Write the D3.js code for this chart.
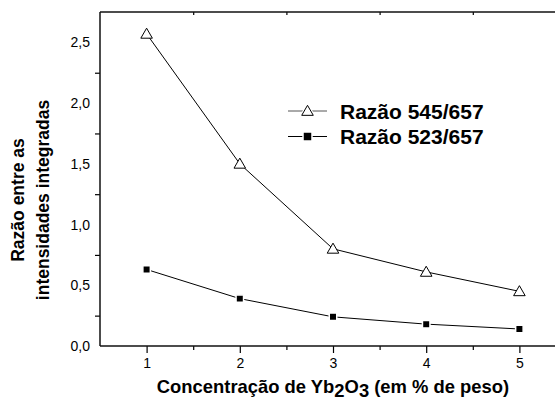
<!DOCTYPE html>
<html>
<head>
<meta charset="utf-8">
<script src="https://cdn.jsdelivr.net/npm/d3@7"></script>
<style>
  body { margin: 0; background: #fff; }
  text { font-family: "Liberation Sans", Arial, sans-serif; }
</style>
</head>
<body>
<div id="chart"></div>
<script>
// concentration of Yb2O3 (% weight)
var concentracao = [1, 2, 3, 4, 5];
var razao545 = [2.57, 1.50, 0.80, 0.61, 0.45];
var razao523 = [0.63, 0.39, 0.24, 0.18, 0.14];
var xMajor = [1, 2, 3, 4, 5];
var xMinor = [1.5, 2.5, 3.5, 4.5];
var yMajor = [0, 0.5, 1.0, 1.5, 2.0, 2.5];
var yMinor = [0.25, 0.75, 1.25, 1.75, 2.25];
var legendLabels = ["Raz\u00e3o 545/657", "Raz\u00e3o 523/657"];

var width = 555, height = 400;
var plotLeft = 100, plotRight = 566, plotTop = 12, plotBottom = 346;

var svg = d3.select("#chart").append("svg")
    .attr("width", width)
    .attr("height", height);

var x = d3.scaleLinear().domain([0.5, 5.5]).range([plotLeft, plotRight]);
var y = d3.scaleLinear().domain([0, 2.75]).range([plotBottom, plotTop]);

var fmt = function (d) { return d3.format(".1f")(d).replace(".", ","); };

function styleAxis(g) {
    g.select(".domain").remove();
    g.selectAll("line").attr("stroke", "#000").attr("stroke-width", 1.2);
    g.selectAll("text").attr("fill", "#000")
        .style("font-size", "14px")
        .style("font-family", "Liberation Sans, Arial, sans-serif");
}

// bottom axis: major ticks with labels
svg.append("g")
    .attr("transform", "translate(0," + plotBottom + ")")
    .call(d3.axisBottom(x).tickValues(xMajor).tickSize(7).tickPadding(5).tickFormat(d3.format("d")))
    .call(styleAxis);

// bottom minor ticks
svg.append("g")
    .attr("transform", "translate(0," + plotBottom + ")")
    .call(d3.axisBottom(x).tickValues(xMinor).tickSize(4).tickFormat(""))
    .call(styleAxis);

// top minor ticks, inward
svg.append("g")
    .attr("transform", "translate(0," + plotTop + ")")
    .call(d3.axisBottom(x).tickValues(xMinor).tickSize(3).tickFormat(""))
    .call(styleAxis);

// left axis: labels at major values, ticks at minor values
svg.append("g")
    .attr("transform", "translate(" + plotLeft + ",0)")
    .call(d3.axisLeft(y).tickValues(yMajor).tickSize(0).tickPadding(10).tickFormat(fmt))
    .call(styleAxis);

svg.append("g")
    .attr("transform", "translate(" + plotLeft + ",0)")
    .call(d3.axisLeft(y).tickValues(yMinor).tickSize(5).tickFormat(""))
    .call(styleAxis);

// frame
svg.append("line").attr("x1", plotLeft).attr("x2", plotLeft).attr("y1", plotTop).attr("y2", plotBottom)
    .attr("stroke", "#111").attr("stroke-width", 1.5);
svg.append("line").attr("x1", plotLeft).attr("x2", plotRight).attr("y1", plotBottom).attr("y2", plotBottom)
    .attr("stroke", "#111").attr("stroke-width", 1.5);
svg.append("line").attr("x1", plotLeft).attr("x2", plotRight).attr("y1", plotTop).attr("y2", plotTop)
    .attr("stroke", "#111").attr("stroke-width", 1.5);

// series lines
var line = d3.line()
    .x(function (d, i) { return x(concentracao[i]); })
    .y(function (d) { return y(d); });

svg.append("path").datum(razao545).attr("d", line)
    .attr("fill", "none").attr("stroke", "#000").attr("stroke-width", 1);
svg.append("path").datum(razao523).attr("d", line)
    .attr("fill", "none").attr("stroke", "#000").attr("stroke-width", 1);

var triangle = d3.symbol().type(d3.symbolTriangle).size(58);
var square = d3.symbol().type(d3.symbolSquare).size(56);

svg.selectAll(".tri").data(razao545).enter().append("path")
    .attr("class", "tri")
    .attr("d", triangle)
    .attr("transform", function (d, i) { return "translate(" + x(concentracao[i]) + "," + (y(d) + 1) + ")"; })
    .attr("fill", "#fff").attr("stroke", "#000").attr("stroke-width", 1);

svg.selectAll(".sq").data(razao523).enter().append("path")
    .attr("class", "sq")
    .attr("d", square)
    .attr("transform", function (d, i) { return "translate(" + x(concentracao[i]) + "," + y(d) + ")"; })
    .attr("fill", "#000").attr("stroke", "#fff").attr("stroke-width", 1.5);

// legend
var legend = svg.append("g").attr("transform", "translate(288,111)");
legendLabels.forEach(function (lab, i) {
    var g = legend.append("g").attr("transform", "translate(0," + (i * 25.5) + ")");
    g.append("line").attr("x1", 0).attr("x2", 39).attr("y1", 0).attr("y2", 0)
        .attr("stroke", i == 0 ? "#555" : "#000").attr("stroke-width", 1);
    g.append("path")
        .attr("d", i == 0 ? triangle : square)
        .attr("transform", "translate(19.5," + (i == 0 ? 1 : 0) + ")")
        .attr("fill", i == 0 ? "#fff" : "#000")
        .attr("stroke", "#fff")
        .attr("stroke-width", 3);
    g.append("path")
        .attr("d", i == 0 ? triangle : square)
        .attr("transform", "translate(19.5," + (i == 0 ? 1 : 0) + ")")
        .attr("fill", i == 0 ? "#fff" : "#000")
        .attr("stroke", i == 0 ? "#000" : "none")
        .attr("stroke-width", 1);
    g.append("text").attr("x", 52).attr("y", 7.5)
        .style("font-size", "21px").style("font-weight", "bold")
        .text(lab);
});

// y title
var yt = svg.append("text")
    .attr("transform", "translate(24,200) rotate(-90)")
    .attr("text-anchor", "middle")
    .style("font-size", "17.5px").style("font-weight", "bold");
yt.append("tspan").attr("x", 0).attr("y", 0).text("Raz\u00e3o entre as");
yt.append("tspan").attr("x", 0).attr("y", 24.5).text("intensidades integradas");

// x title
var xt = svg.append("text")
    .attr("x", 333).attr("y", 393)
    .attr("text-anchor", "middle")
    .style("font-size", "18.4px").style("font-weight", "bold");
xt.append("tspan").text("Concentra\u00e7\u00e3o de Yb");
xt.append("tspan").attr("dy", 3.5).text("2");
xt.append("tspan").attr("dy", -3.5).text("O");
xt.append("tspan").attr("dy", 3.5).text("3");
xt.append("tspan").attr("dy", -3.5).text(" (em % de peso)");
</script>
</body>
</html>
